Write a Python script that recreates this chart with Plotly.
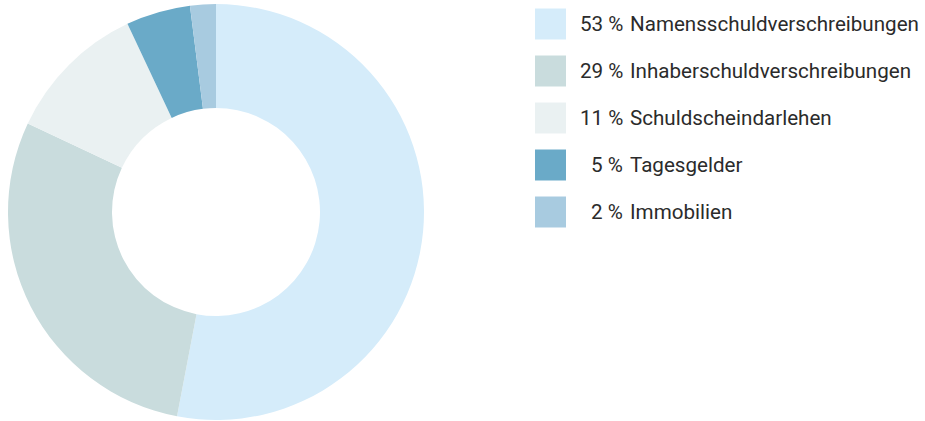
import plotly.graph_objects as go

labels = ["Namensschuldverschreibungen", "Inhaberschuldverschreibungen",
          "Schuldscheindarlehen", "Tagesgelder", "Immobilien"]
values = [53, 29, 11, 5, 2]
colors = ["#D5ECFA", "#C9DCDD", "#EAF1F2", "#6AAAC8", "#A8CBE0"]

W, H = 925, 421

fig = go.Figure(go.Pie(
    labels=labels, values=values, hole=0.5, sort=False,
    direction="clockwise", rotation=0,
    marker=dict(colors=colors, line=dict(width=0)),
    textinfo="none", hoverinfo="label+percent",
    domain=dict(x=[8 / W, 424 / W], y=[0, 418 / H]),
    showlegend=False,
))

font = dict(family="Roboto, Arial, sans-serif", size=20.6, color="#2b2b2b")
sq_x0, sq_x1 = 535, 566
row0, step = 24, 47
for i, (lab, val, col) in enumerate(zip(labels, values, colors)):
    yc = row0 + i * step
    fig.add_shape(type="rect", xref="paper", yref="paper",
                  x0=sq_x0 / W, x1=sq_x1 / W,
                  y0=1 - (yc + 15.5) / H, y1=1 - (yc - 15.5) / H,
                  fillcolor=col, line=dict(width=0))
    fig.add_annotation(xref="paper", yref="paper", x=625 / W, y=1 - yc / H,
                       xanchor="right", yanchor="middle", showarrow=False,
                       text=f"{val} %", font=font)
    fig.add_annotation(xref="paper", yref="paper", x=628 / W, y=1 - yc / H,
                       xanchor="left", yanchor="middle", showarrow=False,
                       text=lab, font=font)

fig.update_layout(width=W, height=H, margin=dict(l=0, r=0, t=0, b=0),
                  paper_bgcolor="white", plot_bgcolor="white")
fig.write_html("out.html", config={"displayModeBar": False},
               post_script="document.body.style.margin='0';document.body.style.padding='0';")
